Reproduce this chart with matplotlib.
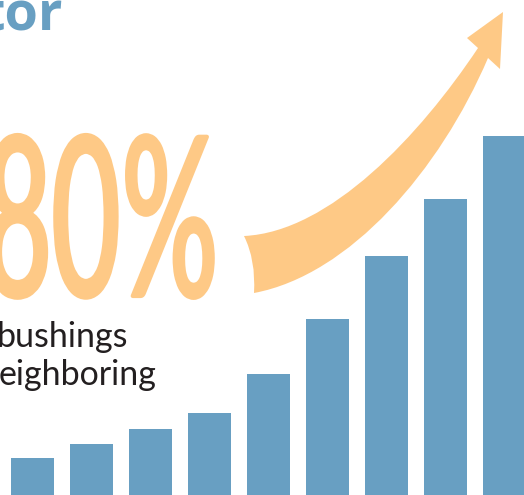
import matplotlib
matplotlib.use("Agg")
import matplotlib.pyplot as plt
from matplotlib.path import Path
from matplotlib.patches import PathPatch
from matplotlib.patheffects import AbstractPathEffect
from matplotlib.transforms import Affine2D

# data
categories = list(range(9))
values = [37, 51, 66, 82, 121, 176, 239, 296, 359]
big_number = "80"
big_unit = "%"
title_fragment = "tor"
caption_lines = ["bushings", "eighboring"]

BLUE = "#689FC2"
ORANGE = "#FEC986"
DARK = "#231F20"

W, H = 524, 495
fig = plt.figure(figsize=(W / 100, H / 100), dpi=100)
fig.patch.set_facecolor("white")

ax = fig.add_axes([0, 0, 1, 1])
ax.bar(categories, values, width=43 / 59, color=BLUE)
ax.set_xlim(-32.5 / 59, (W - 32.5) / 59)
ax.set_ylim(0, H)
ax.axis("off")

# overlay in pixel coordinates (y downward)
ov = fig.add_axes([0, 0, 1, 1], facecolor="none")
ov.set_xlim(0, W)
ov.set_ylim(H, 0)
ov.axis("off")

# curved arrow
verts = [
    (244, 236),
    (330, 232), (420, 135), (478, 48),
    (467, 38), (503, 12), (500, 69), (488, 58),
    (440, 170), (350, 275), (254, 293),
    (256, 260), (244, 236),
]
codes = [Path.MOVETO,
         Path.CURVE4, Path.CURVE4, Path.CURVE4,
         Path.LINETO, Path.LINETO, Path.LINETO, Path.LINETO,
         Path.CURVE4, Path.CURVE4, Path.CURVE4,
         Path.CURVE3, Path.CURVE3]
ov.add_patch(PathPatch(Path(verts, codes), facecolor=ORANGE, edgecolor="none"))


class Condense(AbstractPathEffect):
    """Horizontally squeeze text glyphs about a fixed display x, with optional outline."""
    def __init__(self, sx, x0, lw=0.0):
        super().__init__()
        self.sx = sx
        self.x0 = x0
        self.lw = lw

    def draw_path(self, renderer, gc, tpath, affine, rgbFace=None):
        t = affine + Affine2D().translate(-self.x0, 0).scale(self.sx, 1).translate(self.x0, 0)
        gc0 = renderer.new_gc()
        gc0.copy_properties(gc)
        if self.lw > 0 and rgbFace is not None:
            gc0.set_linewidth(self.lw)
            gc0.set_foreground(rgbFace)
            gc0.set_joinstyle("round")
        renderer.draw_path(gc0, tpath, t, rgbFace)
        gc0.restore()


ov.text(63, 30, title_fragment, ha="right", va="baseline", color=BLUE,
        fontsize=39, fontweight="bold", family=["Open Sans", "DejaVu Sans"])

ov.text(120, 296, big_number, ha="right", va="baseline", color=ORANGE,
        fontsize=160, family=["Lato", "DejaVu Sans"],
        path_effects=[Condense(0.53, 120, lw=3.0)])
ov.text(218, 296, big_unit, ha="right", va="baseline", color=ORANGE,
        fontsize=160, family=["Lato", "DejaVu Sans"],
        path_effects=[Condense(0.54, 218, lw=3.0)])

ov.text(128, 347, caption_lines[0], ha="right", va="baseline", color=DARK,
        fontsize=24.5, family=["Lato", "DejaVu Sans"])
ov.text(157, 385, caption_lines[1], ha="right", va="baseline", color=DARK,
        fontsize=24.5, family=["Lato", "DejaVu Sans"])

fig.savefig("out.png", dpi=100)
